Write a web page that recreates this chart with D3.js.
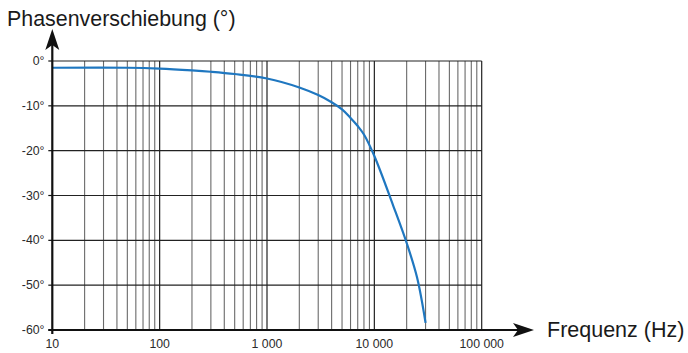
<!DOCTYPE html>
<html><head><meta charset="utf-8">
<script src="https://cdn.jsdelivr.net/npm/d3@7"></script>
<style>body{margin:0;background:#fff}svg{display:block}</style>
</head><body>
<svg id="c" width="688" height="353"></svg>
<script>
const freqs = [10, 50, 100, 200, 300, 500, 1000, 2000, 3000, 4000, 5000, 6000, 7000, 8000, 10000, 15000, 20000, 25000, 30000];
const phase = [-1.5, -1.5, -1.7, -2.1, -2.4, -2.9, -3.9, -5.9, -7.6, -9.2, -10.8, -12.7, -14.5, -16.4, -21.2, -32.3, -40.6, -48.3, -58.4];
const yTicks = [0, -10, -20, -30, -40, -50, -60];
const xTicks = [10, 100, 1000, 10000, 100000];
const xTickLabels = ["10", "100", "1 000", "10 000", "100 000"];
const yTitle = "Phasenverschiebung (°)";
const xTitle = "Frequenz (Hz)";

const svg = d3.select("#c");
const font = "Liberation Sans, Arial, sans-serif";
const x = d3.scaleLog().domain([10, 100000]).range([52.3, 481.7]);
const y = d3.scaleLinear().domain([-60, 0]).range([330, 61]);

const minor = [];
for (let d = 10; d < 100000; d *= 10) for (let k = 2; k <= 9; k++) minor.push(d * k);
svg.append("g").selectAll("line").data(minor).join("line")
  .attr("x1", d => x(d)).attr("x2", d => x(d)).attr("y1", y(0)).attr("y2", y(-60))
  .attr("stroke", "#6a6a6a").attr("stroke-width", 1.1);
svg.append("g").selectAll("line").data(xTicks.slice(1)).join("line")
  .attr("x1", d => x(d)).attr("x2", d => x(d)).attr("y1", y(0)).attr("y2", y(-60))
  .attr("stroke", "#222").attr("stroke-width", 1.2);
svg.append("g").selectAll("line").data(yTicks.slice(0, -1)).join("line")
  .attr("x1", x(10)).attr("x2", x(100000)).attr("y1", d => y(d)).attr("y2", d => y(d))
  .attr("stroke", "#222").attr("stroke-width", 1.2);

const line = d3.line().x((d, i) => x(freqs[i])).y(d => y(d)).curve(d3.curveCatmullRom.alpha(0.5));
svg.append("path").datum(phase).attr("d", line)
  .attr("fill", "none").attr("stroke", "#1f77c0").attr("stroke-width", 2.2);

svg.append("line").attr("x1", x(10)).attr("x2", x(10)).attr("y1", y(-60) + 4).attr("y2", 44)
  .attr("stroke", "#111").attr("stroke-width", 2.2);
svg.append("path").attr("d", `M${x(10)},29 L${x(10) - 7},50 L${x(10)},45 L${x(10) + 7},50 Z`).attr("fill", "#111");
svg.append("line").attr("x1", x(10) - 4).attr("x2", 518).attr("y1", y(-60)).attr("y2", y(-60))
  .attr("stroke", "#111").attr("stroke-width", 2.2);
svg.append("path").attr("d", `M534,${y(-60)} L513,${y(-60) - 7} L518,${y(-60)} L513,${y(-60) + 7} Z`).attr("fill", "#111");

svg.append("g").selectAll("line").data(yTicks).join("line")
  .attr("x1", x(10) - 4).attr("x2", x(10)).attr("y1", d => y(d)).attr("y2", d => y(d))
  .attr("stroke", "#111").attr("stroke-width", 1.2);

svg.append("g").selectAll("text").data(yTicks).join("text")
  .attr("x", 44.5).attr("y", d => y(d) + 4).attr("text-anchor", "end")
  .attr("font-family", font).attr("font-size", 12.3).attr("fill", "#2a2a2a")
  .text(d => d + "°");
svg.append("g").selectAll("text").data(xTicks).join("text")
  .attr("x", d => x(d)).attr("y", 348).attr("text-anchor", "middle")
  .attr("font-family", font).attr("font-size", 12.3).attr("fill", "#2a2a2a")
  .text((d, i) => xTickLabels[i]);

svg.append("text").attr("x", 7).attr("y", 26).attr("font-family", font).attr("font-size", 21.4).attr("fill", "#1a1a1a").text(yTitle);
svg.append("text").attr("x", 547).attr("y", 337).attr("font-family", font).attr("font-size", 21.5).attr("fill", "#1a1a1a").text(xTitle);
</script>
</body></html>
